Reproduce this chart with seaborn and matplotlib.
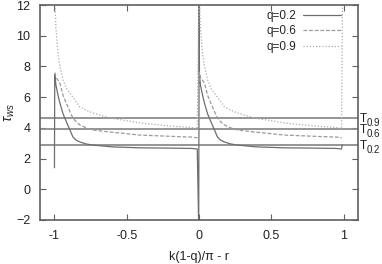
import numpy as np
import pandas as pd
import matplotlib
matplotlib.use('Agg')
import matplotlib.pyplot as plt
import seaborn as sns

# curve samples (x, tau_ws)
x_q02 = [-1.0, -0.998, -0.99, -0.975, -0.962, -0.94, -0.913, -0.89, -0.872, -0.85, -0.824,
         -0.78, -0.734, -0.6, -0.408, -0.2, -0.05, -0.012, -0.002,
         0.001, 0.003, 0.01, 0.025, 0.038, 0.06, 0.087, 0.11, 0.128, 0.15, 0.176,
         0.22, 0.266, 0.4, 0.592, 0.8, 0.95, 0.985, 0.992]
y_q02 = [1.4, 7.5, 6.8, 6.1, 5.6, 4.9, 4.3, 3.8, 3.4, 3.2, 3.08,
         2.95, 2.88, 2.76, 2.7, 2.68, 2.66, 2.62, -2.5,
         12.5, 7.5, 6.8, 6.1, 5.6, 4.9, 4.3, 3.8, 3.4, 3.2, 3.08,
         2.95, 2.88, 2.76, 2.7, 2.68, 2.66, 2.62, 2.9]

x_q06 = [-0.997, -0.99, -0.975, -0.962, -0.94, -0.913, -0.89, -0.872, -0.85, -0.824,
         -0.78, -0.734, -0.616, -0.408, -0.2, -0.05, -0.012, -0.003,
         0.002, 0.01, 0.025, 0.038, 0.06, 0.087, 0.11, 0.128, 0.15, 0.176,
         0.22, 0.266, 0.384, 0.592, 0.8, 0.95, 0.988]
y_q06 = [7.6, 7.3, 7.1, 6.9, 6.1, 5.5, 5.0, 4.64, 4.4, 4.19,
         4.0, 3.86, 3.73, 3.53, 3.45, 3.4, 3.35, 3.3,
         7.6, 7.3, 7.1, 6.9, 6.1, 5.5, 5.0, 4.64, 4.4, 4.19,
         4.0, 3.86, 3.73, 3.53, 3.45, 3.4, 3.35]

x_q09 = [-0.997, -0.99, -0.975, -0.962, -0.94, -0.913, -0.893, -0.85, -0.824,
         -0.78, -0.734, -0.616, -0.408, -0.2, -0.05, -0.012, -0.002,
         0.002, 0.01, 0.025, 0.038, 0.06, 0.087, 0.107, 0.15, 0.176,
         0.22, 0.266, 0.384, 0.592, 0.8, 0.95, 0.986, 0.993]
y_q09 = [12.5, 10.5, 8.8, 8.0, 7.1, 6.5, 6.27, 5.7, 5.36,
         5.15, 4.97, 4.64, 4.32, 4.12, 4.02, 3.95, 12.5,
         12.5, 10.5, 8.8, 8.0, 7.1, 6.5, 6.27, 5.7, 5.36,
         5.15, 4.97, 4.64, 4.32, 4.12, 4.02, 3.95, 12.5]

labels = ['q=0.2', 'q=0.6', 'q=0.9']
t_levels = [4.64, 3.9, 2.9]
t_names = ['0.9', '0.6', '0.2']

df = pd.concat([
    pd.DataFrame({'x': x_q02, 'y': y_q02, 'q': labels[0]}),
    pd.DataFrame({'x': x_q06, 'y': y_q06, 'q': labels[1]}),
    pd.DataFrame({'x': x_q09, 'y': y_q09, 'q': labels[2]}),
], ignore_index=True)

sns.set_style('ticks')
plt.rcParams['font.family'] = ['Liberation Sans', 'DejaVu Sans']
plt.rcParams['mathtext.fontset'] = 'custom'
plt.rcParams['mathtext.rm'] = 'Liberation Sans'
plt.rcParams['mathtext.it'] = 'Liberation Sans:italic'

fig = plt.figure(figsize=(3.82, 2.64), dpi=100)
ax = fig.add_axes([40 / 382, 1 - 220 / 264, 318 / 382, 215 / 264])

for lv in t_levels:
    ax.axhline(lv, color='#8c8c8c', lw=1.3, zorder=1)

palette = {labels[0]: '#6e6e6e', labels[1]: '#9a9a9a', labels[2]: '#ababab'}
dashes = {labels[0]: '', labels[1]: (3, 1.5), labels[2]: (1, 1.5)}
sns.lineplot(data=df, x='x', y='y', hue='q', style='q', palette=palette,
             dashes=dashes, sort=False, estimator=None, lw=0.9, ax=ax, zorder=2)

ax.set_xlim(-1.1, 1.1)
ax.set_ylim(-2, 12)
ax.set_xticks([-1, -0.5, 0, 0.5, 1])
ax.set_xticklabels(['-1', '-0.5', '0', '0.5', '1'])
ax.set_yticks(range(-2, 13, 2))
ax.tick_params(direction='in', top=True, right=True, length=4, width=0.8,
               color='#606060', labelsize=9, pad=7, labelcolor='#222222')
for s in ax.spines.values():
    s.set_color('#606060')
    s.set_linewidth(1.2)

ax.set_xlabel('k(1-q)/\u03c0 - r', fontsize=9, labelpad=7, color='#222222')
ax.set_ylabel(r'$\tau_{ws}$', fontsize=10, color='#222222')
ax.yaxis.set_label_coords(-0.072, 0.5)

# T_q labels on the right edge
for lv, nm in zip(t_levels, t_names):
    ax.annotate('T', xy=(1, lv), xycoords=('axes fraction', 'data'),
                xytext=(2, -4), textcoords='offset pixels', fontsize=8.5,
                va='baseline', ha='left', annotation_clip=False, color='#222222')
    ax.annotate(nm, xy=(1, lv), xycoords=('axes fraction', 'data'),
                xytext=(9, -8), textcoords='offset pixels', fontsize=7,
                va='baseline', ha='left', annotation_clip=False, color='#222222')

h, l = ax.get_legend_handles_labels()
ax.legend(h, l, loc='upper right', bbox_to_anchor=(0.961, 1.0), markerfirst=False,
          frameon=False, fontsize=8.5, handlelength=3.2, labelspacing=0.3,
          borderaxespad=0.0, handletextpad=0.6)

fig.savefig('out.png', dpi=100)
